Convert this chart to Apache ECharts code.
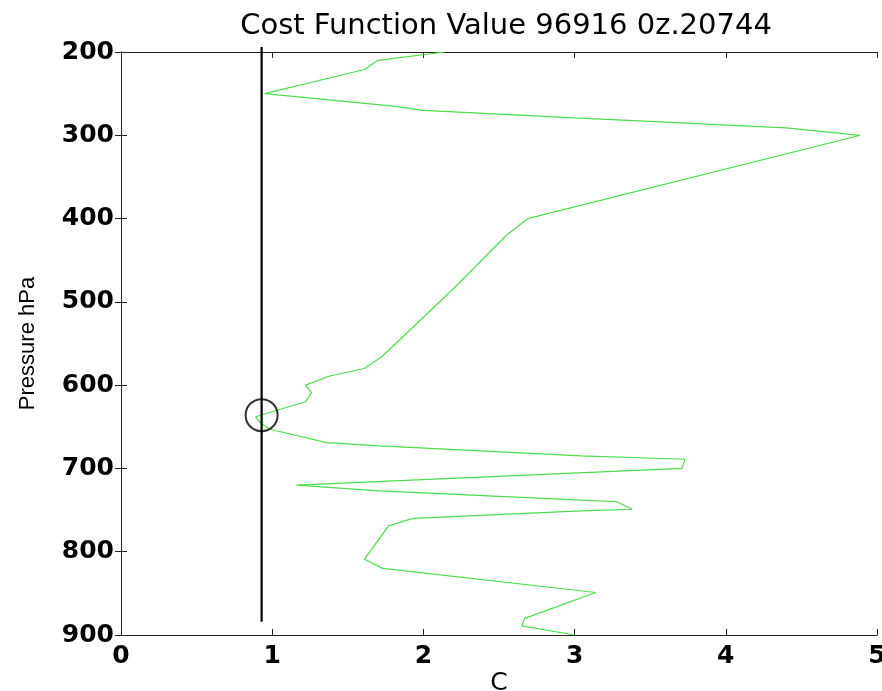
<!DOCTYPE html>
<html>
<head>
<meta charset="utf-8">
<script src="https://cdn.jsdelivr.net/npm/echarts@6/dist/echarts.min.js"></script>
<style>html,body{margin:0;padding:0;background:#fff}#c{width:882px;height:691px}</style>
</head>
<body>
<div id="c"></div>
<script>
// Green cost profile: C value at each pressure level (hPa)
const costC = [2.14, 1.70, 1.61, 0.95, 1.80, 2.00, 3.00, 4.40, 4.89, 2.69, 2.55, 2.20, 1.73, 1.61, 1.38, 1.22, 1.26, 1.22, 0.89, 0.92, 0.985, 1.36, 1.71, 3.04, 3.73, 3.71, 1.16, 1.71, 3.04, 3.28, 3.38, 3.04, 1.93, 1.77, 1.61, 1.73, 3.14, 2.67, 2.65, 3.00];
const costP = [200, 210, 221, 250, 265, 270, 279, 291, 300, 400, 420, 484, 565, 580, 589, 600, 609, 620, 638, 645, 653, 669, 673, 685, 689, 700, 720, 727, 738, 740, 749, 751, 760, 769, 809, 820, 849, 880, 889, 900];
// Black vertical reference line
const refC = [0.93, 0.93];
const refP = [194, 884];
// Circle marker
const markC = [0.93];
const markP = [636];
// Axis ticks
const xTicks = [0, 1, 2, 3, 4, 5];
const yTicks = [200, 300, 400, 500, 600, 700, 800, 900];
const titleText = 'Cost Function Value 96916 0z.20744';

const zip = (a, b) => a.map((v, i) => [v, b[i]]);
const chart = echarts.init(document.getElementById('c'));
const tickFont = {fontFamily: 'DejaVu Sans', fontWeight: 'bold', fontSize: 25, color: '#000'};
const axisLine = {show: true, lineStyle: {color: '#222', width: 1}};
chart.setOption({
  animation: false,
  backgroundColor: '#fff',
  title: {
    text: titleText, left: 501, top: 7, textAlign: 'center',
    textStyle: {fontFamily: 'DejaVu Sans', fontWeight: 'normal', fontSize: 29, color: '#000'}
  },
  grid: {left: 121, right: 5, top: 52, bottom: 56, outerBoundsMode: 'none', containLabel: false},
  xAxis: [{
    type: 'value', min: xTicks[0], max: xTicks[xTicks.length - 1], interval: 1,
    position: 'bottom', axisLine: axisLine,
    axisTick: {show: true, inside: true, length: 6, lineStyle: {color: '#222'}},
    axisLabel: Object.assign({margin: 9}, tickFont),
    splitLine: {show: false},
    name: 'C', nameLocation: 'middle', nameGap: 36, nameMoveOverlap: false,
    nameTextStyle: {fontFamily: 'DejaVu Sans', fontSize: 25, color: '#000', verticalAlign: 'top'}
  }, {
    type: 'value', min: xTicks[0], max: xTicks[xTicks.length - 1], interval: 1,
    position: 'top', axisLine: axisLine,
    axisTick: {show: true, inside: true, length: 6, lineStyle: {color: '#222'}},
    axisLabel: {show: false}, splitLine: {show: false}
  }],
  yAxis: [{
    type: 'value', min: yTicks[0], max: yTicks[yTicks.length - 1], interval: 100, inverse: true,
    position: 'left', axisLine: axisLine,
    axisTick: {show: true, inside: true, length: 6, lineStyle: {color: '#222'}},
    axisLabel: Object.assign({margin: 7}, tickFont),
    splitLine: {show: false},
    name: 'Pressure hPa', nameLocation: 'middle', nameGap: 82, nameMoveOverlap: false,
    nameTextStyle: {fontFamily: 'Liberation Sans', fontSize: 22, color: '#000'}
  }, {
    type: 'value', min: yTicks[0], max: yTicks[yTicks.length - 1], interval: 100, inverse: true,
    position: 'right', axisLine: axisLine,
    axisTick: {show: true, inside: true, length: 6, lineStyle: {color: '#222'}},
    axisLabel: {show: false}, splitLine: {show: false}
  }],
  series: [{
    type: 'line', data: zip(costC, costP), showSymbol: false, symbol: 'none',
    lineStyle: {color: '#4ddd4d', width: 1.2}, z: 2
  }, {
    type: 'line', data: zip(refC, refP), showSymbol: false, symbol: 'none', clip: false,
    lineStyle: {color: '#000', width: 2.2}, z: 3
  }, {
    type: 'scatter', data: zip(markC, markP), symbol: 'circle', symbolSize: 32,
    itemStyle: {color: 'rgba(0,0,0,0)', borderColor: '#000', borderWidth: 2}, z: 4
  }]
});
</script>
</body>
</html>
